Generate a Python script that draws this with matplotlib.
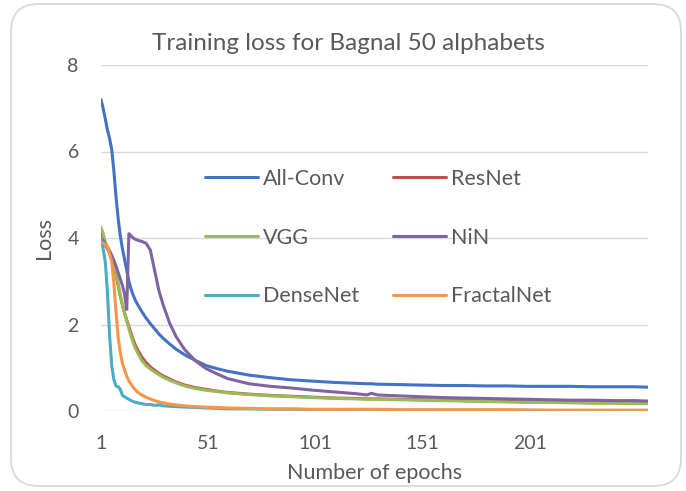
import matplotlib
matplotlib.use("Agg")
import matplotlib.pyplot as plt
from matplotlib.patches import FancyBboxPatch

plt.rcParams['font.family'] = ['Lato', 'DejaVu Sans']

epochs = [1, 2, 3, 4, 5, 6, 7, 8, 9, 10, 11, 12, 13, 14, 15, 16, 17, 18,
          20, 22, 24, 26, 28, 30, 33, 36, 40, 45, 50, 55, 60, 70, 80, 90,
          100, 110, 120, 125, 127, 130, 140, 150, 160, 170, 180, 190, 200,
          210, 220, 230, 240, 250, 256]

all_conv = [7.2, 7.0, 6.75, 6.5, 6.3, 6.05, 5.55, 4.95, 4.45, 4.05, 3.75, 3.5, 3.25,
            3.0, 2.82, 2.68, 2.56, 2.47, 2.3, 2.15, 2.02, 1.9, 1.78, 1.68, 1.55,
            1.43, 1.3, 1.17, 1.05, 0.98, 0.92, 0.83, 0.77, 0.72, 0.69, 0.66, 0.64,
            0.63, 0.63, 0.62, 0.61, 0.6, 0.59, 0.59, 0.58, 0.58, 0.57, 0.57, 0.57,
            0.56, 0.56, 0.56, 0.55]

resnet = [4.1, 4.0, 3.85, 3.75, 3.65, 3.5, 3.35, 3.15, 2.9, 2.65, 2.45, 2.27, 2.1,
          1.95, 1.8, 1.65, 1.52, 1.42, 1.25, 1.12, 1.02, 0.94, 0.87, 0.81, 0.74,
          0.67, 0.6, 0.54, 0.5, 0.46, 0.43, 0.39, 0.36, 0.34, 0.32, 0.3, 0.29,
          0.28, 0.28, 0.28, 0.27, 0.26, 0.25, 0.24, 0.23, 0.22, 0.21, 0.21, 0.2,
          0.19, 0.19, 0.18, 0.18]

vgg = [4.25, 4.1, 3.9, 3.8, 3.7, 3.55, 3.4, 3.2, 2.95, 2.68, 2.45, 2.25, 2.07,
       1.9, 1.73, 1.58, 1.45, 1.35, 1.17, 1.05, 0.97, 0.9, 0.84, 0.78, 0.71,
       0.65, 0.58, 0.52, 0.48, 0.45, 0.42, 0.38, 0.35, 0.33, 0.31, 0.29, 0.28,
       0.27, 0.27, 0.27, 0.26, 0.25, 0.24, 0.23, 0.22, 0.21, 0.2, 0.2, 0.19,
       0.18, 0.18, 0.17, 0.17]

nin = [4.0, 3.95, 3.85, 3.78, 3.7, 3.6, 3.48, 3.35, 3.2, 3.05, 2.9, 2.7, 2.35,
       4.1, 4.05, 4.0, 3.97, 3.95, 3.92, 3.88, 3.72, 3.25, 2.78, 2.45, 2.03,
       1.72, 1.42, 1.16, 0.98, 0.86, 0.75, 0.63, 0.57, 0.53, 0.48, 0.44, 0.4,
       0.37, 0.41, 0.37, 0.35, 0.33, 0.31, 0.3, 0.29, 0.28, 0.27, 0.26, 0.25,
       0.25, 0.24, 0.24, 0.23]

densenet = [4.0, 3.75, 3.45, 2.75, 1.75, 1.05, 0.72, 0.58, 0.56, 0.5, 0.36, 0.33,
            0.3, 0.27, 0.24, 0.22, 0.2, 0.19, 0.17, 0.15, 0.15, 0.13, 0.14, 0.12,
            0.11, 0.1, 0.09, 0.08, 0.07, 0.06, 0.05, 0.05, 0.04, 0.04, 0.03, 0.03,
            0.03, 0.03, 0.03, 0.03, 0.02, 0.02, 0.02, 0.02, 0.02, 0.02, 0.02,
            0.01, 0.01, 0.01, 0.01, 0.01, 0.01]

fractalnet = [3.9, 3.88, 3.85, 3.8, 3.65, 3.45, 2.95, 2.3, 1.7, 1.35, 1.1, 0.95,
              0.8, 0.7, 0.62, 0.55, 0.49, 0.44, 0.37, 0.32, 0.28, 0.24, 0.21, 0.19,
              0.16, 0.14, 0.12, 0.1, 0.09, 0.08, 0.07, 0.06, 0.05, 0.05, 0.04, 0.04,
              0.04, 0.04, 0.04, 0.04, 0.03, 0.03, 0.03, 0.03, 0.03, 0.03, 0.02,
              0.02, 0.02, 0.02, 0.02, 0.02, 0.02]

series_names = ['All-Conv', 'ResNet', 'VGG', 'NiN', 'DenseNet', 'FractalNet']
series_data = [all_conv, resnet, vgg, nin, densenet, fractalnet]
series_colors = ['#4472C4', '#C0504D', '#9BBB59', '#8064A2', '#4BACC6', '#F79646']

x_ticks = [1, 51, 101, 151, 201]
y_ticks = [0, 2, 4, 6, 8]

text_color = '#595959'
grid_color = '#D9D9D9'

W, H = 686, 491
fig = plt.figure(figsize=(W / 100, H / 100), dpi=100)

# rounded chart border
border = FancyBboxPatch((11 / W, 5 / H), (681 - 11) / W, (487 - 5) / H,
                        boxstyle="round,pad=0,rounding_size=0.04",
                        transform=fig.transFigure, facecolor='none',
                        edgecolor=grid_color, linewidth=1.3, mutation_aspect=W / H,
                        zorder=-5)
fig.patches.append(border)

ax = fig.add_axes([101 / W, 1 - 411 / H, (648 - 101) / W, (411 - 65) / H])
ax.set_facecolor('none')

handles = {}
for name, data, color in zip(series_names, series_data, series_colors):
    ln, = ax.plot(epochs, data, color=color, linewidth=2.2, solid_capstyle='round',
                  solid_joinstyle='round')
    handles[name] = ln

ax.set_xlim(1, 256)
ax.set_ylim(0, 8)
ax.set_xticks(x_ticks)
ax.set_yticks(y_ticks)
ax.tick_params(axis='both', length=0, labelsize=14, labelcolor=text_color)
ax.tick_params(axis='x', pad=17)
ax.tick_params(axis='y', pad=16)
ax.yaxis.grid(True, color=grid_color, linewidth=1.0)
ax.set_axisbelow(True)
for s in ax.spines.values():
    s.set_visible(False)

fig.text(348 / W, 1 - 43 / H, 'Training loss for Bagnal 50 alphabets', fontsize=17.5,
         color=text_color, ha='center', va='center')
ax.set_xlabel('Number of epochs', fontsize=15.5, color=text_color, labelpad=8)
ax.set_ylabel('Loss', fontsize=15.5, color=text_color, labelpad=10)

order = ['All-Conv', 'VGG', 'DenseNet', 'ResNet', 'NiN', 'FractalNet']
leg = fig.legend([handles[n] for n in order], order, ncol=2, frameon=False,
                 loc='upper left', bbox_to_anchor=(205 / W, 1 - 169 / H),
                 fontsize=15.5, handlelength=2.46, handletextpad=0.23,
                 columnspacing=1.6, labelspacing=1.8, borderpad=0, borderaxespad=0)
for t in leg.get_texts():
    t.set_color(text_color)

fig.savefig('out.png', dpi=100)
